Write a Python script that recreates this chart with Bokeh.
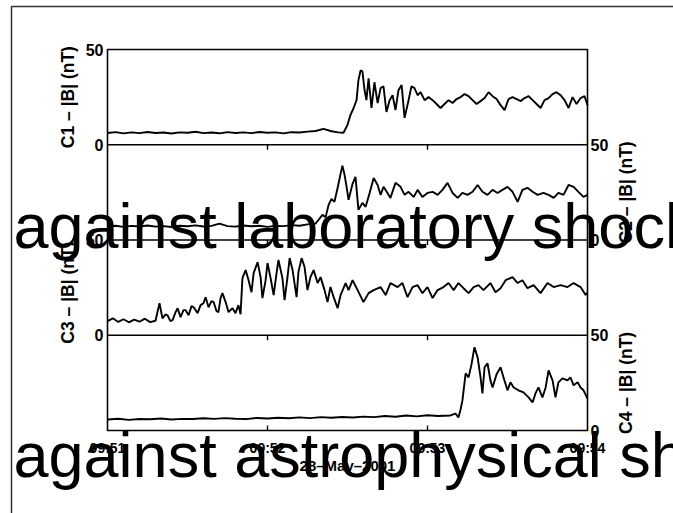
import math

from bokeh.core.properties import value
from bokeh.embed import file_html
from bokeh.resources import INLINE
from bokeh.plotting import figure
from bokeh.models import Range1d

# ---- data: |B| from the four Cluster spacecraft, 28 May 2001, 09:51-09:54 ----
# times are seconds after 09:51:00, field magnitude in nT

c1_t = [0, 3, 6, 9, 12, 15, 18, 21, 24, 27, 30, 33, 36, 39, 42, 45, 48, 51, 54,
        57, 60, 63, 66, 69, 72, 75, 78, 81, 84, 86.5,
        88.5, 90.0, 91.1, 92.3, 93.4, 94.1, 94.9, 95.6, 96.4, 97.1, 97.9, 99.0,
        100.1, 101.3, 102.4, 103.5, 104.6, 105.8, 106.9, 108.0, 109.1, 110.3,
        111.4, 112.9, 114.0, 115.1, 116.3, 117.4, 118.9, 120.4, 121.9, 123.4,
        124.9, 126.4, 127.9, 129.4, 130.9, 132.4, 133.9, 135.4, 136.9, 138.4,
        139.9, 141.4, 142.9, 144.4, 145.9, 147.4, 148.9, 150.4, 151.9, 153.4,
        154.9, 156.4, 157.9, 159.4, 160.9, 162.4, 163.9, 165.4, 166.9, 168.4,
        169.9, 171.4, 172.9, 174.4, 175.9, 177.4, 178.9, 180.0]
c1_b = [6.2, 6.6, 6.0, 6.5, 6.1, 6.7, 6.2, 6.4, 5.9, 6.5, 6.3, 6.8, 6.1, 6.4,
        6.0, 6.6, 6.2, 6.5, 6.1, 6.7, 6.3, 6.5, 6.0, 6.6, 6.4, 6.9, 7.2, 8.3,
        7.1, 6.5,
        6.3, 10.4, 15.6, 19.3, 23.4, 33.9, 39.0, 38.5, 28.6, 23.4, 34.9, 19.3,
        32.8, 21.9, 29.7, 30.7, 17.2, 23.4, 26.0, 18.2, 28.6, 31.3,
        14.1, 23.4, 30.7, 29.7, 26.0, 27.6, 23.4, 25.0, 23.4, 21.4,
        19.3, 21.4, 23.4, 21.9, 24.0, 25.0, 26.6, 25.5, 23.4, 21.4,
        22.9, 24.5, 27.6, 25.5, 24.0, 20.8, 18.2, 24.0, 25.0, 24.0,
        22.9, 24.5, 25.5, 23.4, 21.4, 19.3, 23.4, 24.5, 26.6, 27.6,
        26.0, 23.4, 19.3, 25.0, 21.4, 24.5, 25.5, 20.8]

c2_t = [0, 3, 6, 9, 12, 15, 18, 21, 24, 27, 30, 33, 36, 39, 42, 45, 48, 51, 54,
        57, 60, 63, 66, 69, 72, 75, 78,
        79.1, 80.6, 81.8, 82.9, 84.0, 85.1, 86.3, 87.4, 88.1, 88.9, 89.6, 90.4,
        91.9, 93.0, 94.1, 95.6, 96.8, 98.3, 99.8, 101.3, 102.4, 103.5, 105.0,
        106.1, 108.0, 109.9, 111.4, 112.9, 114.8, 116.3, 118.1, 120.0, 121.9,
        123.8, 125.6, 127.5, 129.4, 131.3, 133.1, 135.0, 136.9, 138.8, 140.6,
        142.5, 144.4, 146.3, 148.1, 150.0, 151.9, 153.8, 155.6, 157.5, 159.4,
        161.3, 163.5, 165.4, 167.3, 169.1, 171.0, 172.9, 174.8, 176.6, 178.5,
        180.0]
c2_b = [7.0, 7.5, 6.9, 7.4, 7.1, 7.6, 7.0, 7.3, 6.8, 7.5, 7.2, 7.7, 7.1, 7.4,
        8.6, 7.3, 7.0, 7.6, 7.2, 7.5, 6.9, 7.4, 7.3, 7.8, 7.5, 8.2, 8.6,
        10.5, 13.2, 12.0, 18.4, 21.6, 20.0, 27.4, 34.7, 39.0, 34.2, 28.4, 21.1,
        29.5, 33.2, 15.8, 19.5, 17.4, 24.7, 32.6, 28.9, 23.7, 27.9, 24.7,
        22.1, 30.0, 27.9, 23.7, 25.3, 22.6, 26.3, 22.6, 24.7, 25.3,
        23.7, 26.3, 30.0, 24.7, 22.1, 24.7, 23.7, 25.3, 28.9, 25.3,
        23.7, 26.3, 24.7, 26.3, 27.9, 25.3, 20.0, 26.3, 27.4, 25.3,
        23.7, 24.7, 23.7, 22.1, 24.7, 23.7, 28.9, 27.9, 25.3, 22.6,
        23.7]

c3_t = [0, 2, 4, 6, 8, 10, 12, 14, 16, 18,
        19.5, 20.6, 21.8, 22.5, 23.6, 24.4, 25.5, 26.3, 27.4, 28.5, 29.3, 30.4,
        31.5, 32.3, 33.8, 34.9, 36.0, 36.8, 37.9, 39.0, 39.8, 40.9, 41.6, 42.4,
        43.1, 44.3, 45.4, 46.9, 48.0, 49.1, 49.9, 50.6, 51.8, 52.9, 54.0, 54.8,
        56.3, 57.4, 58.1, 59.3, 60.0, 61.1, 62.3, 63.4, 64.1, 65.6, 66.4, 67.5,
        68.3, 69.4, 70.9, 71.6, 72.8, 73.9, 75.0, 76.1, 77.3, 78.8, 79.9, 81.4,
        82.5, 83.6, 84.8, 86.3, 87.4, 89.3, 90.4, 91.9, 93.8, 96.0, 97.9, 99.8,
        102.4, 104.3, 106.1, 108.8, 110.6, 112.5, 114.4, 116.3, 118.1, 120.0,
        121.9, 123.8, 126.0, 127.9, 129.8, 131.6, 133.5, 135.4, 137.3, 139.1,
        141.0, 143.6, 145.5, 147.4, 149.3, 151.9, 153.8, 155.6, 157.5, 159.8,
        162.4, 165.0, 167.3, 169.9, 172.5, 174.8, 177.4, 179.3, 180.0]
c3_b = [7.4, 8.9, 7.0, 8.4, 6.8, 8.2, 7.1, 8.7, 6.9, 7.6,
        16.8, 8.9, 11.0, 10.5, 7.4, 7.9, 12.0, 14.2, 9.5, 13.2, 13.2, 10.5,
        15.3, 14.7, 11.6, 15.8, 16.8, 20.0, 14.7, 17.9, 17.4, 12.6, 12.1, 19.5,
        22.1, 17.4, 12.1, 14.2, 11.6, 15.8, 11.0, 30.0, 34.2, 28.9, 22.6, 32.6,
        38.4, 30.5, 19.5, 28.9, 37.9, 30.5, 21.1, 32.6, 39.5, 30.0, 18.4, 30.5,
        40.5, 34.2, 20.0, 33.2, 40.5, 35.8, 23.7, 30.5, 34.2, 27.4, 30.5, 23.7,
        17.4, 25.3, 20.0, 14.2, 21.1, 27.4, 23.7, 28.9, 23.7, 17.4, 22.1, 23.7,
        25.3, 21.1, 27.4, 25.3, 27.4, 20.0, 25.3, 26.3, 22.1, 25.3,
        19.5, 23.7, 25.3, 27.4, 23.7, 27.4, 24.7, 22.1, 25.3, 26.3,
        23.7, 27.4, 22.6, 24.7, 28.9, 30.5, 27.4, 28.9, 24.7, 26.3,
        22.1, 27.4, 25.3, 26.3, 25.3, 27.4, 25.3, 21.1, 22.6]

c4_t = [0, 4, 8, 12, 16, 20, 24, 28, 32, 36, 40, 44, 48, 52, 56, 60, 64, 68,
        72, 76, 80, 84, 88, 92, 96, 100, 104, 108, 112, 116, 120, 124,
        128.6, 130.5, 131.6, 132.4, 133.1, 134.3, 135.4, 136.5, 137.6, 138.8,
        139.9, 140.6, 141.4, 142.5, 143.6, 144.4, 145.9, 147.4, 148.5, 150.0,
        151.1, 152.3, 154.1, 156.0, 157.9, 159.4, 160.5, 161.6, 163.1, 164.3,
        165.4, 166.9, 168.0, 169.1, 170.6, 172.5, 173.6, 174.8, 176.3, 177.4,
        178.5, 180.0]
c4_b = [5.8, 6.2, 5.6, 6.0, 5.9, 6.3, 5.8, 6.1, 6.0, 6.4, 6.1, 6.5, 6.2, 6.0,
        6.6, 6.3, 6.7, 6.4, 6.9, 6.5, 7.0, 6.7, 7.1, 6.8, 7.3, 7.0, 7.6, 7.2,
        7.9, 7.4, 8.0, 7.6,
        7.9, 8.9, 6.8, 11.0, 15.8, 30.0, 27.9, 34.7, 43.7, 38.4,
        27.9, 19.5, 33.2, 35.3, 26.3, 22.6, 29.5, 33.2, 27.9, 21.1,
        25.3, 22.6, 21.1, 20.0, 17.4, 14.7, 19.5, 22.6, 17.4, 22.6,
        31.6, 26.3, 17.4, 25.3, 27.4, 26.3, 27.9, 23.7, 25.3, 22.6,
        21.1, 16.8]

panel_names = ["C1", "C2", "C3", "C4"]
panel_max = 50                      # each panel spans 0..50 nT
time_ticks = [0, 60, 120, 180]
time_labels = ["09:51", "09:52", "09:53", "09:54"]
date_label = "28\u2013May\u20132001"
overlay_lines = ["against laboratory shocks", "against astrophysical shocks"]

FONT = value("Liberation Sans")

# ---- page geometry (pixels) ----
W, H = 673, 513
FL, FR, FT, FB = 107, 587, 49, 430          # stacked-panel box
n_pan = len(panel_names)
stack_top = panel_max * n_pan               # stacked units
t_end = time_ticks[-1]
px_s = (FR - FL) / t_end                    # pixels per second
px_u = (FB - FT) / stack_top                # pixels per stacked unit

x_lo, x_hi = -FL / px_s, t_end + (W - FR) / px_s
y_lo, y_hi = -(H - FB) / px_u, stack_top + FT / px_u

p = figure(width=W, height=H, output_backend="svg", toolbar_location=None,
           x_range=Range1d(x_lo, x_hi), y_range=Range1d(y_lo, y_hi),
           x_axis_location=None, y_axis_location=None, min_border=0)
p.background_fill_color = "white"
p.border_fill_color = "white"
p.outline_line_color = None
p.grid.visible = False

# page border along the top and left edges
bx = (11 - FL) / px_s
by = stack_top + (FT - 6) / px_u
p.line([bx, bx, x_hi + 5], [y_lo - 5, by, by], line_color="#333333", line_width=1.5)

# one y range per panel so that each series is drawn in its own 0..50 band
series = [(c1_t, c1_b), (c2_t, c2_b), (c3_t, c3_b), (c4_t, c4_b)]
for i, (name, (ts, bs)) in enumerate(zip(panel_names, series)):
    rname = name.lower()
    shift = panel_max * (n_pan - 1 - i)
    p.extra_y_ranges[rname] = Range1d(y_lo - shift, y_hi - shift)
    p.line(ts, bs, y_range_name=rname, line_color="black", line_width=1.9)

# box and panel separators
p.quad(left=[0], right=[t_end], bottom=[0], top=[stack_top],
       fill_color=None, line_color="black", line_width=1.6)
seps = [panel_max * k for k in range(1, n_pan)]
p.segment(x0=[0] * len(seps), x1=[t_end] * len(seps), y0=seps, y1=seps,
          line_color="black", line_width=1.6)

# inward time ticks on the bottom edge and below each separator
tick_len = 5 / px_u
inner = time_ticks[1:-1]
p.segment(x0=inner, x1=inner, y0=[0] * len(inner), y1=[tick_len] * len(inner),
          line_color="black", line_width=1.4)
for s in seps:
    p.segment(x0=inner, x1=inner, y0=[s] * len(inner), y1=[s - tick_len] * len(inner),
              line_color="black", line_width=1.4)

# time tick labels and date
p.text(x=time_ticks, y=[0] * len(time_ticks), text=time_labels, y_offset=9,
       text_align="center", text_baseline="top", text_font=FONT,
       text_font_style="bold", text_font_size="14px", text_color="black")
p.text(x=[t_end / 2], y=[0], text=[date_label], y_offset=26,
       text_align="center", text_baseline="top", text_font=FONT,
       text_font_style="bold", text_font_size="15px", text_color="black")

# 0 / 50 labels: panels 1 and 3 on the left, panels 2 and 4 on the right
for i in range(n_pan):
    bottom = panel_max * (n_pan - 1 - i)
    left_side = (i % 2 == 0)
    p.text(x=[0 if left_side else t_end] * 2, y=[bottom + panel_max, bottom],
           text=[str(panel_max), "0"], x_offset=-4 if left_side else 3,
           text_align="right" if left_side else "left", text_baseline="middle",
           text_font=FONT, text_font_style="bold", text_font_size="16px",
           text_color="black")
    p.text(x=[0 if left_side else t_end], y=[bottom + panel_max / 2],
           text=[f"{panel_names[i]} \u2013 |B| (nT)"], angle=math.pi / 2,
           x_offset=-40 if left_side else 38, y_offset=5 if i == 2 else 0,
           text_align="center", text_baseline="middle", text_font=FONT,
           text_font_style="bold", text_font_size="17.5px", text_color="black")

# large caption lines across the figure
p.text(x=[0, 0], y=[panel_max * 2, 0], text=overlay_lines,
       x_offset=[-94, -94], y_offset=[-14, 24],
       text_align="left", text_baseline="alphabetic", text_font=FONT,
       text_font_size="63px", text_color="black")

open("out.html", "w").write(file_html(p, INLINE))
